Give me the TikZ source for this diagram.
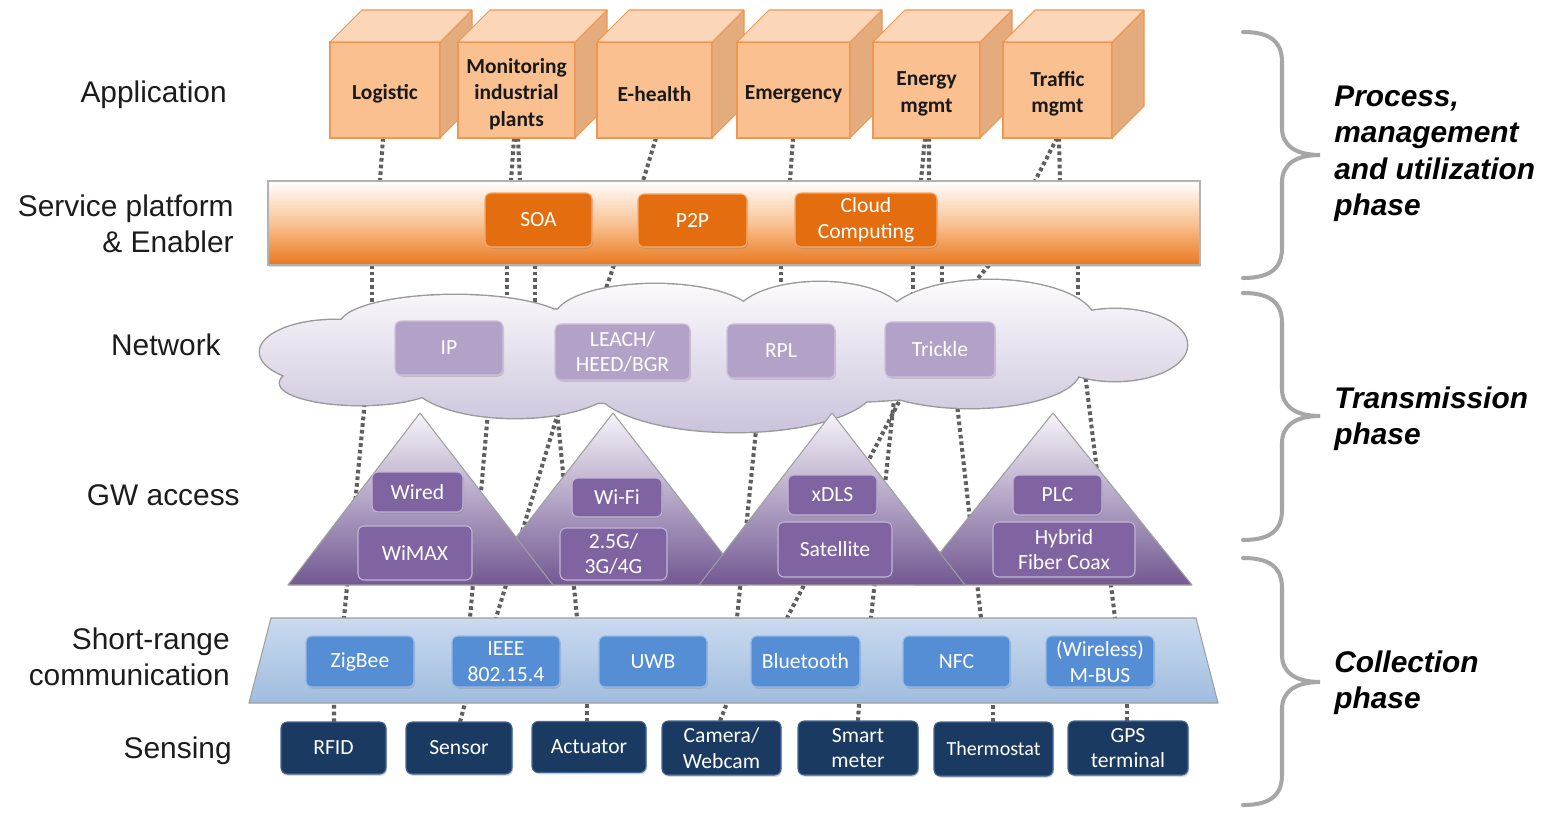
\documentclass[tikz,border=0pt]{standalone}
\usepackage{fontspec}
\setmainfont{Liberation Sans}
\newfontfamily\boxfont{Carlito}
\usetikzlibrary{calc,shadows}
\pgfdeclarelayer{bg}
\pgfsetlayers{bg,main}
\definecolor{cAppFront}{RGB}{250,192,144}
\definecolor{cAppTop}{RGB}{252,214,184}
\definecolor{cAppSide}{RGB}{228,172,124}
\definecolor{cAppB}{RGB}{240,150,80}
\definecolor{cSPmid}{RGB}{249,195,148}
\definecolor{cSPbot}{RGB}{233,120,30}
\definecolor{cSPbox}{RGB}{228,110,15}
\definecolor{cSPboxB}{RGB}{245,170,110}
\definecolor{cCloudTop}{RGB}{252,251,253}
\definecolor{cCloudBot}{RGB}{204,195,220}
\definecolor{cNetBox}{RGB}{179,162,199}
\definecolor{cNetBoxB}{RGB}{205,193,220}
\definecolor{cTriTop}{RGB}{246,243,249}
\definecolor{cTriBot}{RGB}{114,88,146}
\definecolor{cTriBox}{RGB}{128,100,162}
\definecolor{cTriBoxB}{RGB}{195,180,215}
\definecolor{cSRtop}{RGB}{202,218,239}
\definecolor{cSRbot}{RGB}{160,188,222}
\definecolor{cSRbox}{RGB}{85,142,213}
\definecolor{cSRboxB}{RGB}{150,185,230}
\definecolor{cSens}{RGB}{26,58,98}
\definecolor{cSensB}{RGB}{70,105,150}
\definecolor{cConn}{RGB}{95,95,95}
\definecolor{cBrace}{RGB}{166,166,166}
\definecolor{cLab}{RGB}{28,28,28}
\newcommand\upx{0.02cm}
\tikzset{
  sz/.style 2 args={minimum width=#1*\upx, minimum height=#2*\upx},
  lab/.style={font=\fontsize{17}{20.5}\selectfont, inner sep=0pt, text=cLab, anchor=east, align=right},
  phase/.style={font=\fontsize{17}{20.8}\selectfont\bfseries\itshape, inner sep=0pt, align=left, anchor=west, text=black},
  appbox/.style={draw=cAppB, fill=cAppFront, line width=0.6pt, outer sep=0pt, inner sep=0pt},
  apptext/.style={inner sep=0pt, align=center, font=\boxfont\bfseries\fontsize{12.2}{15}\selectfont, text=black!90},
  appface/.style={draw=cAppB, line width=0.6pt, line join=round},
  ibox/.style={rounded corners=3.5pt, inner sep=1pt, outer sep=0pt, align=center, text=white, line width=0.6pt,
     font=\boxfont\fontsize{12.3}{14.7}\selectfont,
     drop shadow={opacity=0.3, shadow xshift=0.6pt, shadow yshift=-1pt}},
  spbox/.style={ibox, fill=cSPbox, draw=cSPboxB},
  netbox/.style={ibox, fill=cNetBox, draw=cNetBoxB},
  tribox/.style={ibox, fill=cTriBox, draw=cTriBoxB},
  srbox/.style={ibox, fill=cSRbox, draw=cSRboxB},
  sensbox/.style={ibox, fill=cSens, draw=cSensB},
  tri/.style={top color=cTriTop, bottom color=cTriBot, draw=gray!75, line width=0.6pt, line join=round},
  conn/.style={draw=cConn, line width=2.3pt, dash pattern=on 2.1pt off 1.7pt},
  bracestyle/.style={draw=cBrace, line width=2.3pt, line cap=round},
}
\newcommand\appcube[4]{%
  \node[appbox, sz={#3}{96}] (#1) at (#2,90) {};
  \filldraw[appface, fill=cAppSide] (#1.north east) -- ++(32,-32) -- ($(#1.south east)+(32,-32)$) -- (#1.south east) -- cycle;
  \filldraw[appface, fill=cAppTop] (#1.north west) -- ++(32,-32) -- ($(#1.north east)+(32,-32)$) -- (#1.north east) -- cycle;
  \node[apptext] (#1-t) at ($(#1.center)+(0,4)$) {#4};
}
\newcommand\phasebrace[3]{%
  \draw[bracestyle] (1243,#1) .. controls (1268,#1) and (1282,{#1+8}) .. (1282,{#1+30})
    -- (1282,{#2-27}) .. controls (1282,{#2-10}) and (1295,#2) .. (1320,#2)
    .. controls (1295,#2) and (1282,{#2+10}) .. (1282,{#2+27})
    -- (1282,{#3-30}) .. controls (1282,{#3-8}) and (1268,#3) .. (1243,#3);
}
\def\cloudlist{335/352/75/32, 360/383/80/22, 515/378/105/40, 735/385/140/47, 970/370/110/38, 1115/345/72/36, 455/325/115/30, 655/318/100/34, 820/318/85/36, 990/322/105/42, 720/355/390/50}
\begin{document}
\begin{tikzpicture}[x=0.02cm, y=-0.02cm]
\useasboundingbox (0,0) rectangle (1553,814);

% ---------- Application layer ----------
\appcube{logistic}{385}{110}{Logistic}
\appcube{monitoring}{516.5}{117}{Monitoring\\industrial\\plants}
\appcube{ehealth}{654.5}{115}{E-health}
\appcube{emergency}{793.5}{113}{Emergency}
\appcube{energy}{926.5}{107}{Energy\\mgmt}
\appcube{traffic}{1057.5}{109}{Traffic\\mgmt}

% ---------- Service platform ----------
\node[sz={932}{84}, draw=gray!60, line width=0.6pt, top color=white, bottom color=cSPbot, middle color=cSPmid,
      outer sep=0pt, drop shadow={opacity=0.25, shadow xshift=0.8pt, shadow yshift=-1.2pt}] (sp) at (734,223) {};
\node[spbox, sz={107}{54}] (soa) at (538.5,220) {SOA};
\node[spbox, sz={109}{53}] (p2p) at (692.5,220.5) {P2P};
\node[spbox, sz={142}{54}] (cloudc) at (866,220) {Cloud\\Computing};

% ---------- Network cloud ----------
\draw[draw=gray!80, line width=1.6pt] foreach \cx/\cy/\ra/\rb in \cloudlist {(\cx,\cy) ellipse [x radius=\ra*\upx, y radius=\rb*\upx]};
\shade[top color=cCloudTop, bottom color=cCloudBot] foreach \cx/\cy/\ra/\rb in \cloudlist {(\cx,\cy) ellipse [x radius=\ra*\upx, y radius=\rb*\upx]};
\coordinate (cl) at (720,355);
\node[netbox, sz={108}{54}] (ip) at (449,348) {IP};
\node[netbox, sz={135}{56}] (leach) at (622.5,352) {LEACH/\\HEED/BGR};
\node[netbox, sz={108}{54}] (rpl) at (781,351) {RPL};
\node[netbox, sz={110}{55}] (trickle) at (940,349.5) {Trickle};

% ---------- GW access triangles ----------
\coordinate (t2) at (613,413);
\shadedraw[tri] (t2) -- ++(134,172) -- ++(-268,0) -- cycle;
\node[tribox, sz={90}{39}] (wifi) at (617,497.5) {Wi-Fi};
\node[tribox, sz={107}{52}] (g4) at (613.5,554) {2.5G/\\3G/4G};
\coordinate (t4) at (1053,413);
\shadedraw[tri] (t4) -- ++(139,172) -- ++(-278,0) -- cycle;
\node[tribox, sz={89}{40}] (plc) at (1057.5,495) {PLC};
\node[tribox, sz={142}{55}] (hfc) at (1064,549.5) {Hybrid\\Fiber Coax};
\coordinate (t1) at (420,413);
\shadedraw[tri] (t1) -- ++(133,172) -- ++(-265,0) -- cycle;
\node[tribox, sz={91}{40}] (wired) at (417.5,492) {Wired};
\node[tribox, sz={114}{54}] (wimax) at (415,553) {WiMAX};
\coordinate (t3) at (832,413);
\shadedraw[tri] (t3) -- ++(133,172) -- ++(-266,0) -- cycle;
\node[tribox, sz={89}{40}] (xdls) at (832.5,495) {xDLS};
\node[tribox, sz={114}{55}] (satellite) at (835,549.5) {Satellite};

% ---------- Short-range communication ----------
\shadedraw[top color=cSRtop, bottom color=cSRbot, draw=gray!75, line width=0.6pt]
  (271,618) -- (1196,618) -- (1218,703) -- (249,703) -- cycle;
\coordinate (srN) at (733,618);
\coordinate (srS) at (733,703);
\node[srbox, sz={108}{51}] (zigbee) at (360,661.5) {ZigBee};
\node[srbox, sz={108}{51}] (ieee) at (506,661.5) {IEEE\\802.15.4};
\node[srbox, sz={108}{51}] (uwb) at (653,661.5) {UWB};
\node[srbox, sz={109}{51}] (bt) at (805.5,661.5) {Bluetooth};
\node[srbox, sz={107}{51}] (nfc) at (956.5,661.5) {NFC};
\node[srbox, sz={108}{51}] (mbus) at (1100,661.5) {(Wireless)\\M-BUS};

% ---------- Sensing ----------
\node[sensbox, sz={105}{52}] (rfid) at (333.5,748) {RFID};
\node[sensbox, sz={106}{52}] (sensor) at (459,748) {Sensor};
\node[sensbox, sz={114}{51}] (actuator) at (589,747) {Actuator};
\node[sensbox, sz={119}{54}] (camera) at (721.5,748) {Camera/\\Webcam};
\node[sensbox, sz={120}{54}] (smart) at (858,748) {Smart\\meter};
\node[sensbox, sz={119}{54}, font=\boxfont\fontsize{11.4}{14}\selectfont] (thermo) at (993.5,749) {Thermostat};
\node[sensbox, sz={120}{54}] (gps) at (1128,748) {GPS\\terminal};

% ---------- connectors (behind everything) ----------
\begin{pgfonlayer}{bg}
\fill[white] (0,0) rectangle (1553,814);
% application -> service platform
\draw[conn] ($(logistic.south)+(-2,0)$) -- ($(sp.north)+(-354,0)$);
\draw[conn] ($(monitoring.south)+(-2.5,0)$) -- ($(sp.north)+(-223,0)$);
\draw[conn] ($(monitoring.south)+(1.5,0)$) -- ($(sp.north)+(-214,0)$);
\draw[conn] ($(ehealth.south)+(1.5,0)$) -- ($(sp.north)+(-91,0)$);
\draw[conn] ($(emergency.south)+(-0.5,0)$) -- ($(sp.north)+(56,0)$);
\draw[conn] ($(energy.south)+(-1.5,0)$) -- ($(sp.north)+(187,0)$);
\draw[conn] ($(energy.south)+(2.5,0)$) -- ($(sp.north)+(195,0)$);
\draw[conn] ($(traffic.south)+(-0.5,0)$) -- ($(sp.north)+(301,0)$);
\draw[conn] ($(traffic.south)+(1.5,0)$) -- ($(sp.north)+(326,0)$);
% service platform -> network
\draw[conn] ($(sp.south)+(-362,0)$) -- ($(cl)+(-348,-35)$);
\draw[conn] ($(sp.south)+(-227,0)$) -- ($(cl)+(-213,-35)$);
\draw[conn] ($(sp.south)+(-199,0)$) -- ($(cl)+(-185,-35)$);
\draw[conn] ($(sp.south)+(-120,0)$) -- ($(cl)+(-124,-37)$);
\draw[conn] ($(sp.south)+(47,0)$) -- ($(cl)+(61,-35)$);
\draw[conn] ($(sp.south)+(179,0)$) -- ($(cl)+(193,-35)$);
\draw[conn] ($(sp.south)+(208,0)$) -- ($(cl)+(222,-35)$);
\draw[conn] ($(sp.south)+(255,0)$) -- ($(cl)+(240,-55)$);
\draw[conn] ($(sp.south)+(344,0)$) -- ($(cl)+(358,-35)$);
% network -> short range
\draw[conn] ($(cl)+(-354,35)$) -- ($(srN)+(-389,0)$);
\draw[conn] ($(cl)+(-231,45)$) -- ($(srN)+(-263,0)$);
\draw[conn] ($(cl)+(-158,45)$) -- ($(srN)+(-237,0)$);
\draw[conn] ($(cl)+(-164,45)$) -- ($(srN)+(-156,0)$);
\draw[conn] ($(cl)+(37,65)$) -- ($(srN)+(4,0)$);
\draw[conn] ($(cl)+(185,35)$) -- ($(srN)+(54,0)$);
\draw[conn] ($(cl)+(175,35)$) -- ($(srN)+(138,0)$);
\draw[conn] ($(cl)+(236,40)$) -- ($(srN)+(248,0)$);
\draw[conn] ($(cl)+(364,10)$) -- ($(srN)+(382,0)$);
% short range -> sensing
\draw[conn] ($(rfid.north)+(0.5,0)$) -- ($(srS)+(-399,0)$);
\draw[conn] ($(sensor.north)+(1,0)$) -- ($(srS)+(-268,0)$);
\draw[conn] ($(actuator.north)+(-2,0)$) -- ($(srS)+(-146,0)$);
\draw[conn] ($(camera.north)+(-1.5,0)$) -- ($(srS)+(-6,0)$);
\draw[conn] (smart.north) -- ($(srS)+(126,0)$);
\draw[conn] ($(thermo.north)+(-0.5,0)$) -- ($(srS)+(260,0)$);
\draw[conn] ($(gps.north)+(-1,0)$) -- ($(srS)+(394,0)$);
\end{pgfonlayer}

% ---------- layer labels ----------
\node[lab] (lApp) at (227,95) {Application};
\node[lab] (lSP) at (234,224) {Service platform\\\& Enabler};
\node[lab] (lNet) at (221,345) {Network};
\node[lab] (lGW) at (240,495) {GW access};
\node[lab] (lSR) at (230,657) {Short-range\\communication};
\node[lab] (lSen) at (232,751) {Sensing};

% ---------- phases ----------
\phasebrace{32}{155}{278}
\phasebrace{293}{416}{540}
\phasebrace{558}{682}{805}
\node[phase] (pProc) at (1334,154) {Process,\\management\\and utilization\\phase};
\node[phase] (pTrans) at (1334,419) {Transmission\\phase};
\node[phase] (pColl) at (1334,683) {Collection\\phase};
\end{tikzpicture}
\end{document}
